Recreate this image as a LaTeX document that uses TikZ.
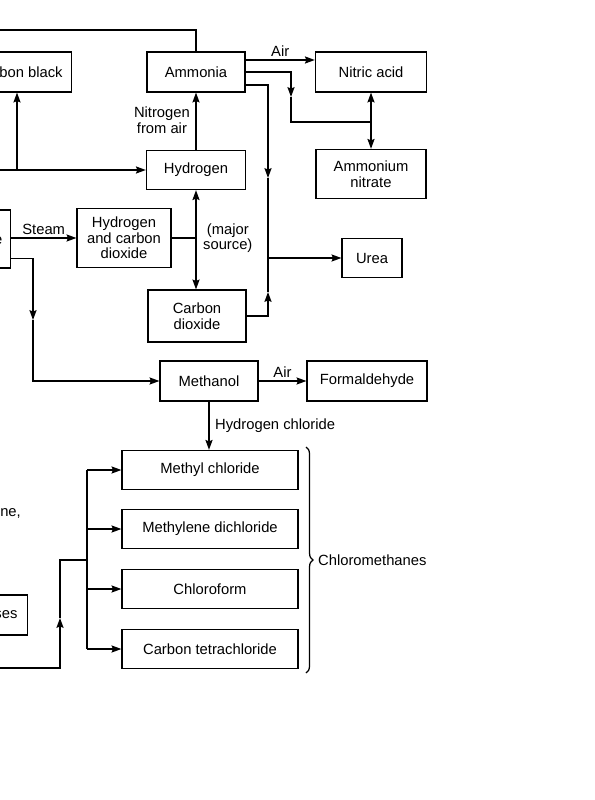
\documentclass[tikz,border=0pt]{standalone}
\usepackage{fontspec}
\setmainfont{Liberation Sans}
\usetikzlibrary{arrows.meta,decorations.pathreplacing}

\tikzset{
  box/.style={draw, line width=0.8pt, minimum height=1cm, align=center,
    font=\fontsize{10.5}{11}\selectfont},
  lbl/.style={font=\fontsize{10.5}{11}\selectfont, align=center, inner sep=1pt},
  arr/.style={-{Stealth[length=7pt,width=5pt,inset=1pt]}}
}

\begin{document}
\begin{tikzpicture}[x=0.025cm, y=-0.025cm, line width=1.1pt]
    \useasboundingbox (0,0) rectangle (594,800);

    \node[box, anchor=east, inner xsep=0.22cm] (carbonblack) at (72,72) {Carbon black};
    \node[box, minimum width=2.45cm] (ammonia) at (196,72) {Ammonia};
    \node[box, minimum width=2.78cm] (nitric) at (371,72) {Nitric acid};
    \node[box, minimum width=2.48cm, minimum height=0.98cm] (hydrogen) at (196,170) {Hydrogen};
    \node[box, minimum width=2.75cm, minimum height=1.23cm] (ammnit) at (371,174) {Ammonium\\nitrate};
    \node[box, anchor=east, inner xsep=0.2cm, minimum height=1.45cm] (methane) at (11,239) {Methane};
    \node[box, minimum width=2.35cm, minimum height=1.48cm] (hco2) at (124,238) {Hydrogen\\and carbon\\dioxide};
    \node[box, minimum width=2.45cm, minimum height=1.3cm] (co2) at (197,316) {Carbon\\dioxide};
    \node[box, minimum width=1.5cm, minimum height=0.98cm] (urea) at (372,258) {Urea};
    \node[box, minimum width=2.45cm] (methanol) at (209,381) {Methanol};
    \node[box, minimum width=3cm] (formald) at (367,381) {Formaldehyde};
    \node[box, minimum width=4.4cm, minimum height=0.98cm] (mecl) at (210,470) {Methyl chloride};
    \node[box, minimum width=4.4cm, minimum height=0.98cm] (dcm) at (210,529) {Methylene dichloride};
    \node[box, minimum width=4.4cm, minimum height=0.98cm] (chcl3) at (210,589) {Chloroform};
    \node[box, minimum width=4.4cm, minimum height=0.98cm] (ccl4) at (210,649) {Carbon tetrachloride};
    \node[box, anchor=east, inner xsep=0.25cm] (gases) at (28,615) {Refinery gases};

    \coordinate (topL) at (-10,30);
    \coordinate (hL) at (-10,170);
    \coordinate (cbj) at (17,170);
    \coordinate (m1) at (291,97);
    \coordinate (nj) at (371,122);
    \coordinate (m2) at (268,178);
    \coordinate (m3) at (268,292);
    \coordinate (uj) at (268,258);
    \coordinate (sj) at (196,238);
    \coordinate (ml) at (33,320);
    \coordinate (bl) at (-10,668);
    \coordinate (bj) at (60,618);
    \coordinate (spine) at (87,560);

    \draw (ammonia.north) |- (topL);
    \draw[arr] (hL) -- (hydrogen.west);
    \draw[arr] (cbj) -- (cbj |- carbonblack.south);
    \draw[arr] (hydrogen.north) -- (ammonia.south);
    \node[lbl, anchor=east] at (192,120) {Nitrogen\\from air};

    \draw[arr] ([yshift=0.3cm]ammonia.east) -- ([yshift=0.3cm]nitric.west)
        node[lbl, midway, above=1pt] {Air};
    \draw[arr] (ammonia.east) -| (m1);
    \draw (m1) |- (nj);
    \draw[arr] (nj) -- (nitric.south);
    \draw[arr] (nj) -- (ammnit.north);

    \draw[arr] ([yshift=-0.33cm]ammonia.east) -| (m2);
    \draw (m2) -- (uj);
    \draw[arr] (co2.east) -| (m3);
    \draw (m3) -- (uj);
    \draw[arr] (uj) -- (urea.west);

    \draw (hco2.east) -- (sj);
    \draw[arr] (sj) -- (hydrogen.south);
    \draw[arr] (sj) -- (sj |- co2.north);
    \node[lbl, anchor=west] at (201,238) {(major\\source)};

    \draw[arr] (methane.east |- hco2.west) -- (hco2.west)
        node[lbl, midway, above=1pt] {Steam};
    \draw[arr] ([yshift=0.25cm]methane.south east) -| (ml);
    \draw[arr] (ml) |- (methanol.west);

    \draw[arr] (methanol.east) -- (formald.west)
        node[lbl, midway, above=1pt] {Air};
    \draw[arr] (methanol.south) -- (methanol.south |- mecl.north);
    \node[lbl, anchor=west] at (213,426) {Hydrogen chloride};

    \node[lbl, anchor=east] (chlorine) at (23,512) {Chlorine,};
    \draw[arr] (bl) -| (bj);
    \draw (bj) |- (spine);
    \draw (spine |- mecl.west) -- (spine |- ccl4.west);
    \foreach \n in {mecl,dcm,chcl3,ccl4}
        \draw[arr] (spine |- \n.west) -- (\n.west);

    \draw[line width=0.9pt, decorate, decoration={brace, amplitude=5pt}]
        (306,447) -- (306,673);
    \node[lbl, anchor=west] (chlorometh) at (316,560) {Chloromethanes};
\end{tikzpicture}
\end{document}
